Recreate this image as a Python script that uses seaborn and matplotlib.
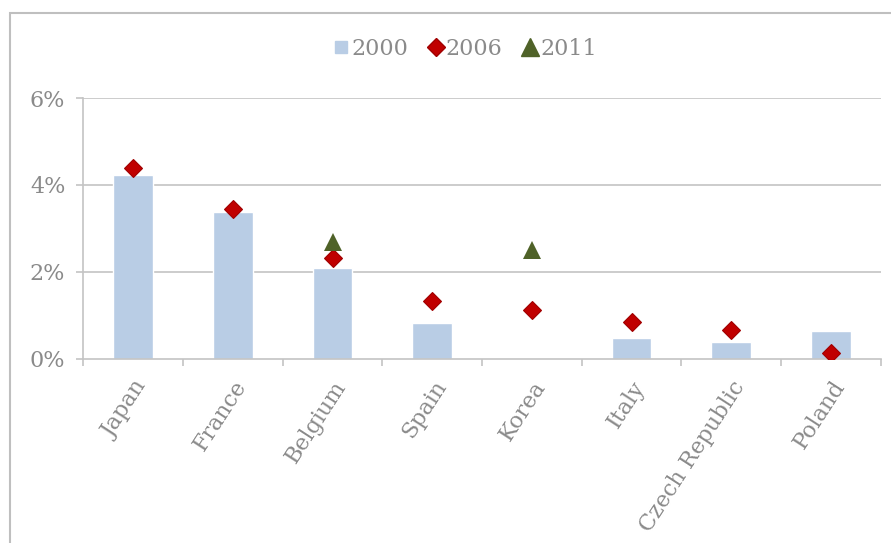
import matplotlib
matplotlib.use("Agg")
import matplotlib.pyplot as plt
from matplotlib.patches import Rectangle
from matplotlib.lines import Line2D
import seaborn as sns
import pandas as pd
import numpy as np

countries = ["Japan", "France", "Belgium", "Spain", "Korea", "Italy", "Czech Republic", "Poland"]
v2000 = [4.23, 3.37, 2.08, 0.83, np.nan, 0.47, 0.39, 0.64]
v2006 = [4.39, 3.45, 2.31, 1.33, 1.12, 0.85, 0.65, 0.12]
v2011 = [np.nan, np.nan, 2.68, np.nan, 2.50, np.nan, np.nan, np.nan]
yticks = [0, 2, 4, 6]

df = pd.DataFrame({"country": countries, "y2000": v2000, "y2006": v2006, "y2011": v2011})

sns.set_theme(style="white")
plt.rcParams["font.family"] = ["DejaVu Serif"]

TXT = "#8A8A8A"
GRID = "#C4C4C4"
C2000 = "#B9CDE5"
C2006 = "#C00000"
C2011 = "#4F6228"

fig = plt.figure(figsize=(8.91, 5.43), dpi=100)
ax = fig.add_axes([0.0935, 0.3394, 0.895, 0.4801])

sns.barplot(data=df, x="country", y="y2000", order=countries, color=C2000,
            width=0.4, errorbar=None, saturation=1, ax=ax, zorder=2)
sns.pointplot(data=df, x="country", y="y2006", order=countries, color=C2006,
              markers="D", linestyles="none", errorbar=None, ax=ax,
              markersize=9, markeredgecolor="#A00000", markeredgewidth=0.8, zorder=4)
sns.pointplot(data=df.dropna(subset=["y2011"]), x="country", y="y2011", order=countries,
              color=C2011, markers="^", linestyles="none", errorbar=None, ax=ax,
              markersize=13.5, markeredgewidth=0, zorder=4)

ax.set_xlim(-0.5, len(countries) - 0.5)
ax.set_ylim(0, 6)
ax.set_yticks(yticks)
ax.set_yticklabels([f"{t}%" for t in yticks])
ax.set_xlabel("")
ax.set_ylabel("")

for t in yticks[1:]:
    ax.axhline(t, color=GRID, lw=1.2, zorder=1)

for s in ["top", "right"]:
    ax.spines[s].set_visible(False)
for s in ["left", "bottom"]:
    ax.spines[s].set_color(GRID)
    ax.spines[s].set_linewidth(1.2)

ax.set_xticks(np.arange(-0.5, len(countries), 1.0), minor=True)
ax.tick_params(axis="x", which="major", length=0, pad=13, labelsize=16, labelcolor=TXT)
ax.tick_params(axis="x", which="minor", length=5, width=1.2, color=GRID, direction="out", bottom=True)
ax.tick_params(axis="y", length=5, width=1.2, color=GRID, direction="out", left=True,
               labelsize=16, labelcolor=TXT, pad=8)
for lab in ax.get_xticklabels():
    lab.set_rotation(57)
    lab.set_ha("right")
    lab.set_rotation_mode("anchor")

handles = [
    Line2D([], [], marker="s", color=C2000, linestyle="none", markersize=8),
    Line2D([], [], marker="D", color=C2006, markeredgecolor="#A00000", linestyle="none", markersize=9),
    Line2D([], [], marker="^", color=C2011, linestyle="none", markersize=13),
]
fig.legend(handles, ["2000", "2006", "2011"], loc="center", bbox_to_anchor=(0.522, 0.91),
           ncol=3, frameon=False, fontsize=16, labelcolor=TXT, handlelength=0.7,
           handletextpad=0.1, columnspacing=0.9)

fig.add_artist(Rectangle((10 / 891, -0.5), 2, 0.976 + 0.5, transform=fig.transFigure,
                         fill=False, edgecolor="#BFBFBF", lw=1.5))

fig.savefig("out.png", dpi=100)
